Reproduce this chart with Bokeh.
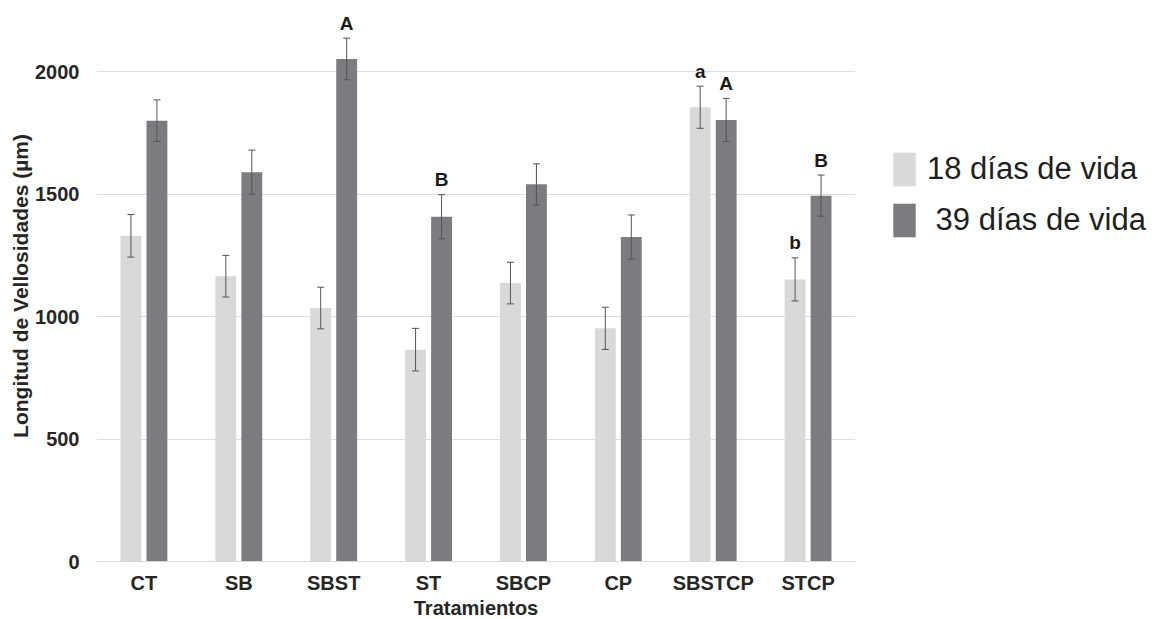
from bokeh.plotting import figure
from bokeh.models import (ColumnDataSource, FactorRange, Range1d, FixedTicker,
                          Whisker, TeeHead, Legend, LegendItem)
from bokeh.transform import dodge
from bokeh.core.properties import value
from bokeh.embed import file_html
from bokeh.resources import INLINE

categories = ["CT", "SB", "SBST", "ST", "SBCP", "CP", "SBSTCP", "STCP"]
mean_18 = [1330, 1165, 1035, 865, 1137, 952, 1855, 1152]
err_18 = [87, 85, 85, 87, 85, 86, 86, 88]
mean_39 = [1800, 1590, 2052, 1408, 1540, 1325, 1803, 1494]
err_39 = [85, 90, 85, 90, 84, 90, 88, 84]
letters_18 = ["", "", "", "", "", "", "a", "b"]
letters_39 = ["", "", "A", "B", "", "", "A", "B"]
y_ticks = [0, 500, 1000, 1500, 2000]
series_labels = ["18 días de vida", "\u00a039 días de vida"]

FONT = "Liberation Sans"
LIGHT = "#d9d9d9"
DARK = "#7c7c80"

src = ColumnDataSource(dict(
    cat=categories,
    m18=mean_18, lo18=[m - e for m, e in zip(mean_18, err_18)], hi18=[m + e for m, e in zip(mean_18, err_18)],
    m39=mean_39, lo39=[m - e for m, e in zip(mean_39, err_39)], hi39=[m + e for m, e in zip(mean_39, err_39)],
    t18=letters_18, t39=letters_39,
))

p = figure(x_range=FactorRange(*categories, range_padding=0), y_range=Range1d(0, 2250),
           frame_width=759, frame_height=551, width=1156, height=619,
           min_border_left=96, min_border_top=10, min_border_right=0, min_border_bottom=0,
           output_backend="svg", toolbar_location=None, outline_line_color=None)

off = 0.137
bw = 0.22
r18 = p.vbar(x=dodge("cat", -off, range=p.x_range), top="m18", width=bw, source=src,
             fill_color=LIGHT, line_color=None)
r39 = p.vbar(x=dodge("cat", off, range=p.x_range), top="m39", width=bw, source=src,
             fill_color=DARK, line_color=None)

for o, lo, hi in [(-off, "lo18", "hi18"), (off, "lo39", "hi39")]:
    w = Whisker(base=dodge("cat", o, range=p.x_range), lower=lo, upper=hi, source=src,
                level="annotation", line_color="#555555", line_width=1,
                upper_head=TeeHead(size=7, line_color="#555555", line_width=1),
                lower_head=TeeHead(size=7, line_color="#555555", line_width=1))
    p.add_layout(w)

for o, hi, t in [(-off, "hi18", "t18"), (off, "hi39", "t39")]:
    p.text(x=dodge("cat", o, range=p.x_range), y=hi, text=t, source=src,
           text_font=value(FONT), text_font_style="bold", text_font_size="19px",
           text_color="#1a1a1a", text_align="center", text_baseline="alphabetic",
           y_offset=-15)

# axes
p.yaxis.ticker = FixedTicker(ticks=y_ticks)
p.yaxis.axis_line_color = None
p.yaxis.major_tick_line_color = None
p.yaxis.minor_tick_line_color = None
p.yaxis.major_tick_out = 0
p.yaxis.major_tick_in = 0
p.yaxis.major_label_standoff = 17
p.yaxis.axis_label = "Longitud de Vellosidades (µm)"
p.yaxis.axis_label_standoff = 0

p.xaxis.axis_line_color = "#d9d9d9"
p.xaxis.major_tick_line_color = None
p.xaxis.minor_tick_line_color = None
p.xaxis.major_tick_out = 0
p.xaxis.major_tick_in = 0
p.xaxis.major_label_standoff = 10
p.xaxis.axis_label = "Tratamientos"
p.xaxis.axis_label_standoff = 0

for ax in (p.xaxis, p.yaxis):
    ax.major_label_text_font = FONT
    ax.major_label_text_font_style = "bold"
    ax.major_label_text_font_size = "20px"
    ax.major_label_text_color = "#262626"
    ax.axis_label_text_font = FONT
    ax.axis_label_text_font_style = "bold"
    ax.axis_label_text_color = "#262626"
p.yaxis.axis_label_text_font_size = "21px"
p.xaxis.axis_label_text_font_size = "20px"

p.xgrid.grid_line_color = None
p.ygrid.grid_line_color = "#dedede"
p.ygrid.ticker = FixedTicker(ticks=y_ticks)

legend = Legend(items=[LegendItem(label=series_labels[0], renderers=[r18]),
                       LegendItem(label=series_labels[1], renderers=[r39])],
                location=(35, 320), margin=0, padding=0, spacing=9,
                glyph_width=28, glyph_height=42, label_standoff=9,
                label_text_font=FONT, label_text_font_size="31px", label_text_color="#1f1f1f",
                border_line_color=None, background_fill_alpha=0)
p.add_layout(legend, "right")

open("out.html", "w").write(file_html(p, INLINE))
